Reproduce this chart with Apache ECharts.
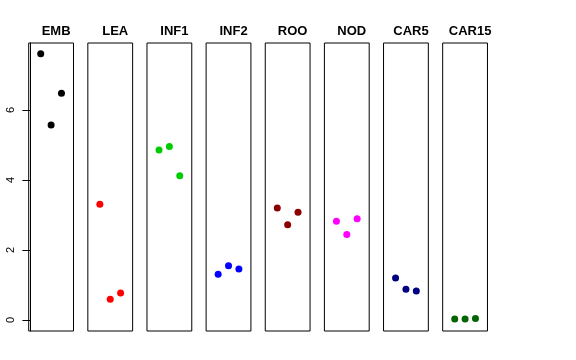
<!DOCTYPE html>
<html><head><meta charset="utf-8">
<script src="https://cdn.jsdelivr.net/npm/echarts@6/dist/echarts.min.js"></script>
<style>html,body{margin:0;padding:0;background:#fff}#c{width:576px;height:360px}</style>
</head><body><div id="c"></div>
<script>
var panels = ["EMB","LEA","INF1","INF2","ROO","NOD","CAR5","CAR15"];
var positions = [1,2,3];
var EMB = [7.61,5.57,6.48];
var LEA = [3.31,0.59,0.77];
var INF1 = [4.86,4.96,4.12];
var INF2 = [1.31,1.55,1.46];
var ROO = [3.20,2.72,3.08];
var NOD = [2.82,2.44,2.89];
var CAR5 = [1.20,0.88,0.83];
var CAR15 = [0.03,0.03,0.04];
var values = [EMB,LEA,INF1,INF2,ROO,NOD,CAR5,CAR15];
var colors = ["#000000","#FF0000","#00CD00","#0000FF","#8B0000","#FF00FF","#000080","#006400"];
var yTicks = [0,2,4,6];

var panelLeft0 = 28.7, panelStep = 59.14, panelW = 44.8, panelTop = 43, panelH = 288;
var yMin = -0.314, yMax = 7.914;

var grids=[], xAxes=[], yAxes=[], series=[], titles=[];
panels.forEach(function(name,i){
  var left = panelLeft0 + i*panelStep;
  grids.push({left:left, top:panelTop, width:panelW, height:panelH, show:true, borderColor:'#000', borderWidth:1, backgroundColor:'transparent'});
  xAxes.push({type:'value', gridIndex:i, min:-0.16, max:4.16, show:false});
  var ya = {type:'value', gridIndex:i, min:yMin, max:yMax, splitLine:{show:false}};
  if(i===0){
    ya.axisLine = {show:true, lineStyle:{color:'#000'}};
    ya.axisTick = {show:true, length:8, lineStyle:{color:'#000'}, customValues:yTicks};
    ya.axisLabel = {show:true, rotate:90, margin:12, fontSize:11, color:'#000', fontFamily:'Liberation Sans, Arial, sans-serif', customValues:yTicks};
  } else {
    ya.show = false;
  }
  yAxes.push(ya);
  series.push({type:'scatter', xAxisIndex:i, yAxisIndex:i, symbolSize:7, itemStyle:{color:colors[i], opacity:1},
    data: positions.map(function(p,k){return [p, values[i][k]];}), silent:true});
  titles.push({text:name, left:left+panelW/2, top:20, textAlign:'center',
    textStyle:{fontSize:13, fontWeight:'bold', color:'#000', fontFamily:'Liberation Sans, Arial, sans-serif'}});
});

var chart = echarts.init(document.getElementById('c'), null, {renderer:'canvas'});
chart.setOption({animation:false, title:titles, grid:grids, xAxis:xAxes, yAxis:yAxes, series:series});
</script></body></html>
